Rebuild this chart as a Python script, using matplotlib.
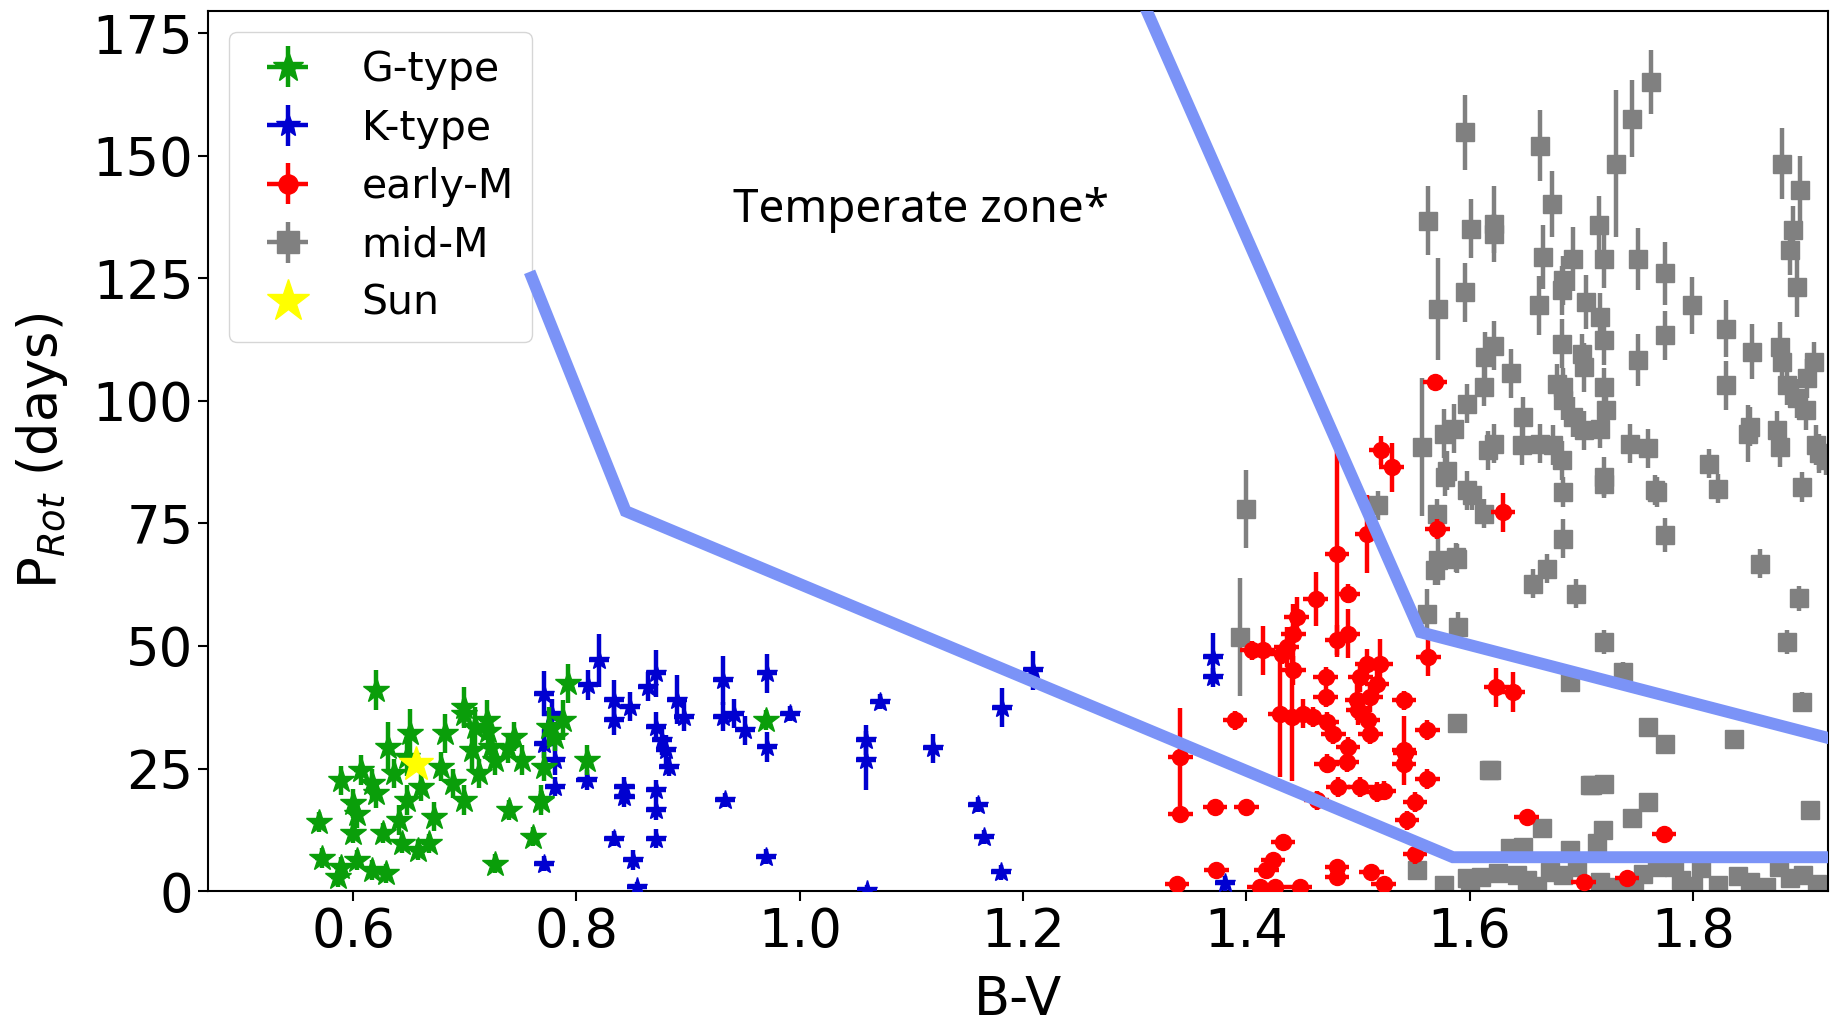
import numpy as np
import matplotlib
matplotlib.use("Agg")
import matplotlib.pyplot as plt

# G-type stars: B-V, rotation period (days), period error
g_bv = [0.620, 0.589, 0.569, 0.572, 0.589, 0.586, 0.603, 0.617, 0.629, 0.607,
        0.617, 0.603, 0.600, 0.620, 0.631, 0.641, 0.644, 0.651, 0.637, 0.648,
        0.658, 0.668, 0.672, 0.661, 0.682, 0.689, 0.679, 0.699, 0.699, 0.706,
        0.713, 0.720, 0.723, 0.709, 0.727, 0.740, 0.744, 0.751, 0.761, 0.768,
        0.771, 0.775, 0.792, 0.788, 0.781, 0.809, 0.970, 0.648, 0.727, 0.627,
        0.600, 0.699, 0.721, 0.739, 0.768]
g_prot = [41.0, 22.6, 14.1, 6.7, 5.0, 2.9, 6.3, 4.3, 3.6, 24.7,
          22.0, 15.8, 17.9, 19.9, 29.4, 14.5, 9.7, 32.2, 24.0, 18.6,
          8.4, 9.7, 15.2, 21.3, 32.2, 22.0, 25.4, 37.6, 18.6, 28.8,
          24.0, 34.9, 29.4, 33.5, 5.6, 16.5, 31.5, 26.7, 11.1, 18.6,
          25.4, 33.5, 42.4, 34.9, 31.5, 26.7, 34.9, 27.4, 26.7, 11.8,
          11.8, 36.2, 32.6, 29.1, 18.4]
g_err = [4, 3, 2, 2, 2, 2, 2, 2, 2, 3,
         3, 3, 3, 3, 5, 3, 2, 5, 3, 3,
         2, 2, 3, 3, 4, 3, 3, 4, 3, 4,
         3, 4, 3, 4, 2, 2, 3, 3, 2, 3,
         3, 4, 4, 4, 3, 3, 2, 4, 3, 2,
         2, 3, 3, 3, 2]

# K-type stars
k_bv = [0.771, 0.771, 0.778, 0.781, 0.781, 0.771, 0.809, 0.820, 0.810, 0.834,
        0.834, 0.848, 0.843, 0.843, 0.834, 0.851, 0.854, 0.864, 0.871, 0.871,
        0.877, 0.880, 0.883, 0.890, 0.896, 0.871, 0.871, 0.871, 0.931, 0.931,
        0.941, 0.951, 0.971, 0.971, 0.991, 0.933, 0.970, 1.059, 1.059, 1.060,
        1.072, 1.119, 1.160, 1.165, 1.180, 1.181, 1.209, 1.370, 1.370, 1.381]
k_prot = [40.3, 30.1, 36.2, 26.7, 21.3, 5.6, 22.6, 47.1, 42.0, 39.0,
          34.9, 37.6, 21.3, 19.2, 10.7, 6.3, 0.9, 41.7, 44.4, 33.5,
          30.8, 28.8, 25.4, 39.0, 35.6, 20.6, 16.5, 10.7, 43.0, 35.6,
          36.2, 32.8, 44.4, 29.4, 36.2, 18.6, 7.0, 30.8, 26.7, 0.2,
          38.6, 29.1, 17.6, 11.0, 3.8, 37.4, 45.0, 47.7, 43.6, 1.6]
k_err = [4.5, 3, 3, 3, 2, 1.5, 2, 5.4, 3, 4,
         3, 3, 2, 2, 1.5, 2, 1, 3, 4.8, 3,
         3, 3, 2, 5, 3, 2, 2, 2, 5, 3,
         3, 3, 4, 3, 1.5, 1.5, 1.5, 3, 6, 1,
         1.5, 3, 1.5, 1.5, 1.5, 4, 4, 5, 2, 1.5]

# early-M dwarfs
em_bv = [1.521, 1.530, 1.481, 1.508, 1.491, 1.462, 1.445, 1.442, 1.436, 1.432,
         1.481, 1.491, 1.415, 1.405, 1.442, 1.471, 1.471, 1.508, 1.520, 1.502,
         1.517, 1.499, 1.511, 1.500, 1.509, 1.511, 1.430, 1.441, 1.451, 1.460,
         1.472, 1.478, 1.390, 1.541, 1.562, 1.563, 1.571, 1.630, 1.624, 1.639,
         1.491, 1.490, 1.472, 1.482, 1.502, 1.517, 1.523, 1.541, 1.541, 1.562,
         1.551, 1.544, 1.551, 1.463, 1.341, 1.341, 1.372, 1.400, 1.433, 1.424,
         1.418, 1.481, 1.481, 1.512, 1.523, 1.373, 1.338, 1.412, 1.426, 1.448,
         1.651, 1.702, 1.741, 1.774, 1.542, 1.569]
em_prot = [89.9, 86.5, 68.8, 72.9, 60.7, 59.6, 55.9, 52.5, 49.8, 48.4,
           51.2, 52.5, 49.1, 49.1, 45.0, 43.7, 39.6, 46.4, 46.4, 43.7,
           42.3, 38.9, 39.6, 36.9, 34.8, 32.1, 36.2, 35.5, 36.2, 35.5,
           34.5, 32.1, 34.8, 38.9, 32.8, 47.8, 73.9, 77.3, 41.6, 40.6,
           29.4, 26.3, 26.0, 21.2, 21.2, 20.2, 20.5, 28.7, 26.0, 22.9,
           18.2, 14.4, 7.6, 18.5, 27.4, 15.8, 17.2, 17.2, 10.0, 6.3,
           4.2, 4.9, 2.9, 3.9, 1.5, 4.2, 1.5, 0.9, 0.9, 0.9,
           15.1, 1.9, 2.6, 11.7, 28.1, 103.8]
em_err = [3, 5, 21, 8, 2, 5.5, 4, 6, 4, 2,
          3, 5, 5, 2, 3, 2, 2, 3, 5, 3,
          3, 4, 3, 3, 3, 2, 13, 13, 3, 2,
          2, 2, 2, 2, 2, 4, 2, 4, 4, 4,
          2, 2, 2, 2, 2, 2, 2, 7, 2, 2,
          2, 2, 2, 2, 10, 1, 1, 1, 1.5, 1.5,
          1.5, 1.5, 1.5, 1.5, 1, 1, 1, 1, 1, 1,
          1, 1, 1, 1, 2, 1]

# mid-M dwarfs
mm_bv = [1.762, 1.745, 1.731, 1.596, 1.663, 1.880, 1.896, 1.563, 1.601, 1.622,
         1.622, 1.674, 1.716, 1.720, 1.666, 1.693, 1.684, 1.683, 1.751, 1.775,
         1.890, 1.887, 1.893, 1.572, 1.596, 1.662, 1.704, 1.717, 1.720, 1.775,
         1.799, 1.830, 1.830, 1.853, 1.878, 1.880, 1.908, 1.902, 1.884, 1.893,
         1.901, 1.913, 1.910, 1.878, 1.875, 1.849, 1.851, 1.622, 1.614, 1.613,
         1.598, 1.557, 1.577, 1.586, 1.616, 1.622, 1.637, 1.648, 1.647, 1.663,
         1.675, 1.678, 1.684, 1.683, 1.684, 1.693, 1.702, 1.702, 1.701, 1.720,
         1.722, 1.717, 1.751, 1.744, 1.760, 1.720, 1.683, 1.598, 1.580, 1.814,
         1.822, 1.766, 1.898, 1.919, 1.602, 1.613, 1.684, 1.720, 1.768, 1.572,
         1.589, 1.569, 1.684, 1.775, 1.669, 1.657, 1.695, 1.860, 1.895, 1.562,
         1.590, 1.720, 1.884, 1.737, 1.690, 1.898, 1.589, 1.760, 1.775, 1.837,
         1.619, 1.710, 1.720, 1.760, 1.745, 1.905, 1.665, 1.719, 1.714, 1.553,
         1.636, 1.648, 1.690, 1.577, 1.598, 1.610, 1.625, 1.642, 1.651, 1.672,
         1.684, 1.696, 1.717, 1.747, 1.768, 1.783, 1.789, 1.807, 1.822, 1.851,
         1.877, 1.887, 1.899, 1.911, 1.400, 1.394, 1.617, 1.708, 1.518, 1.578,
         1.588, 1.571, 1.600, 1.660, 1.730, 1.800, 1.865, 1.840, 1.755]
mm_prot = [165.0, 157.6, 148.4, 154.8, 152.1, 148.4, 143.0, 136.8, 135.1, 136.1,
           134.1, 140.2, 135.8, 129.0, 129.4, 129.0, 124.6, 122.6, 129.0, 126.0,
           134.8, 130.7, 123.2, 118.8, 122.2, 119.5, 120.2, 117.1, 112.4, 113.4,
           119.5, 114.7, 103.2, 110.0, 111.0, 108.0, 108.0, 104.6, 103.2, 100.5,
           98.1, 89.3, 91.0, 90.6, 94.0, 93.3, 94.7, 111.3, 109.0, 102.9,
           99.4, 90.6, 93.3, 94.3, 89.9, 91.3, 105.6, 96.7, 91.0, 91.3,
           91.0, 103.5, 102.8, 111.7, 100.1, 96.7, 106.9, 94.0, 109.6, 102.8,
           98.1, 94.3, 108.3, 91.3, 90.3, 84.5, 87.9, 81.8, 85.8, 87.2,
           82.1, 81.8, 82.4, 87.9, 80.7, 77.0, 81.4, 83.1, 81.4, 67.5,
           67.8, 65.4, 71.9, 72.6, 65.8, 62.7, 60.7, 66.8, 59.7, 56.6,
           53.9, 50.8, 50.8, 44.7, 42.7, 38.6, 34.2, 33.5, 30.1, 31.1,
           24.7, 21.6, 21.9, 18.2, 14.8, 16.5, 12.8, 12.4, 9.7, 4.3,
           8.7, 9.0, 8.3, 1.2, 2.6, 2.9, 3.6, 3.2, 2.2, 3.9,
           3.2, 5.0, 1.9, 1.5, 5.0, 5.0, 2.2, 4.6, 1.2, 1.9,
           5.0, 2.6, 3.2, 1.5, 78.0, 51.8, 24.6, 21.6, 78.7, 84.5,
           68.1, 77.0, 0.8, 1.0, 0.9, 1.1, 0.8, 3.0, 3.4]
mm_err = [6.5, 7.8, 15, 7.6, 7.3, 7.3, 7, 7, 6, 7.8,
          4, 6.8, 6, 6, 6.5, 6.5, 5, 5, 6.3, 6.5,
          5, 5, 6, 10.4, 6, 6, 5.5, 5, 5, 5,
          5.8, 5.8, 5, 5.6, 5, 4, 4, 4, 4, 4,
          4, 4, 4, 4, 4, 5.8, 4, 5, 5, 4,
          4, 14, 5, 5, 4, 4, 5, 4, 4, 4,
          4, 4, 4, 5, 4, 4, 5, 4, 4, 4,
          4, 4, 5.3, 4, 4, 4, 4, 4, 4, 3,
          3, 3, 3, 3, 3, 3, 3, 3, 3, 5,
          3, 3, 4, 3.5, 3, 3, 3, 3, 2.5, 5,
          3, 2.5, 2.5, 2, 2, 2, 1, 1, 1, 1,
          1, 1, 1, 1, 1, 1, 1, 1, 1, 1,
          1, 1, 1, 0.5, 0.5, 0.5, 0.5, 0.5, 0.5, 0.5,
          0.5, 0.5, 0.5, 0.5, 0.5, 0.5, 0.5, 0.5, 0.5, 0.5,
          0.5, 0.5, 0.5, 0.5, 8, 12, 1, 1, 3, 4,
          3, 3, 0.5, 0.5, 0.5, 0.5, 0.5, 0.5, 0.5]

sun_bv = [0.656]
sun_prot = [26.0]

# boundaries of the temperate zone
zone_low_bv = [0.760, 0.844, 1.585, 1.93]
zone_low_prot = [125.2, 77.5, 6.9, 6.9]
zone_high_bv = [1.310, 1.556, 1.93]
zone_high_prot = [180.0, 52.8, 30.7]

fig = plt.figure(figsize=(18.33, 10.23), dpi=100)
ax = fig.add_axes([0.1135, 0.129, 0.8838, 0.860])

ekw = dict(linestyle='none', elinewidth=3.2, capsize=0)
h_mm = ax.errorbar(mm_bv, mm_prot, yerr=mm_err, xerr=0.008, fmt='s', color='grey',
                   ms=13, label='mid-M', zorder=2, **ekw)
h_em = ax.errorbar(em_bv, em_prot, yerr=em_err, xerr=0.011, fmt='o', color='red',
                   ms=11.5, label='early-M', zorder=3, **ekw)
h_k = ax.errorbar(k_bv, k_prot, yerr=k_err, xerr=0.009, fmt='*', color='#0000d0',
                  ms=15, label='K-type', zorder=4, **ekw)
h_g = ax.errorbar(g_bv, g_prot, yerr=g_err, xerr=0.006, fmt='*', color='#0a9e0a',
                  ms=19, label='G-type', zorder=5, **ekw)
h_sun, = ax.plot(sun_bv, sun_prot, '*', color='#ffff00', ms=26, label='Sun',
                 linestyle='none', zorder=6)

ax.plot(zone_low_bv, zone_low_prot, color='#7b93f7', lw=8.6, zorder=7,
        solid_joinstyle='miter')
ax.plot(zone_high_bv, zone_high_prot, color='#7b93f7', lw=8.6, zorder=7,
        solid_joinstyle='miter')

ax.text(0.940, 136.4, 'Temperate zone*', fontsize=33, family='Noto Sans',
        ha='left', va='baseline')

ax.set_xlim(0.470, 1.921)
ax.set_ylim(0, 179.5)
ax.set_xticks([0.6, 0.8, 1.0, 1.2, 1.4, 1.6, 1.8])
ax.set_yticks([0, 25, 50, 75, 100, 125, 150, 175])
ax.tick_params(labelsize=38, length=7, width=1.5)
for s in ax.spines.values():
    s.set_linewidth(1.5)
ax.set_xlabel('B-V', fontsize=38, labelpad=12)
ax.set_ylabel(r'P$_{Rot}$ (days)', fontsize=38, labelpad=16)

ax.legend([h_g, h_k, h_em, h_mm, h_sun], ['G-type', 'K-type', 'early-M', 'mid-M', 'Sun'],
          loc='upper left', fontsize=29.5, handlelength=2.0, markerscale=1.2,
          labelspacing=0.45, borderpad=0.45)

fig.savefig('out.png', dpi=100)
